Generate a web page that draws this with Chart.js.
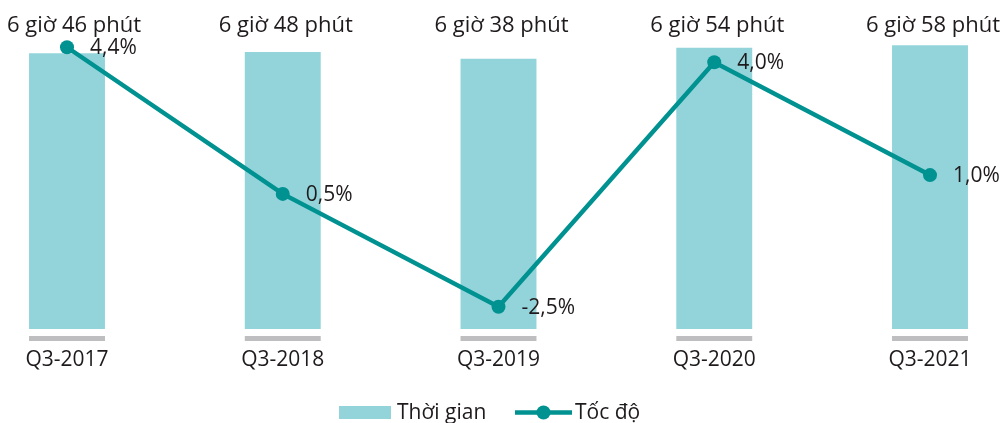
<!DOCTYPE html>
<html><head><meta charset="utf-8">
<script src="https://cdn.jsdelivr.net/npm/chart.js@4/dist/chart.umd.min.js"></script>
<style>html,body{margin:0;padding:0;background:#fff;}#wrap{width:1004px;height:423px;position:relative;}</style>
</head><body>
<div id="wrap"><canvas id="c" width="1004" height="423"></canvas></div>
<script>
const categories = ['Q3-2017', 'Q3-2018', 'Q3-2019', 'Q3-2020', 'Q3-2021'];
const durationMinutes = [406, 408, 398, 414, 418];
const durationLabels = ['6 giờ 46 phút', '6 giờ 48 phút', '6 giờ 38 phút', '6 giờ 54 phút', '6 giờ 58 phút'];
const growthPct = [4.4, 0.5, -2.5, 4.0, 1.0];
const growthLabels = ['4,4%', '0,5%', '-2,5%', '4,0%', '1,0%'];
const seriesNames = ['Thời gian', 'Tốc độ'];

const FONT = '"Open Sans", "Noto Sans", sans-serif';
const TEXT = '#1F1B1C';
const BAR = '#93D4DB';
const LINE = '#009191';
const BASEGRAY = '#BEBEC0';

const extras = {
  id: 'extras',
  beforeDatasetsDraw(chart) {
    const ctx = chart.ctx;
    const meta = chart.getDatasetMeta(0);
    ctx.save();
    ctx.fillStyle = BASEGRAY;
    meta.data.forEach(b => {
      ctx.fillRect(b.x - b.width / 2, b.base + 7, b.width, 5);
    });
    ctx.restore();
  },
  afterDatasetsDraw(chart) {
    const ctx = chart.ctx;
    ctx.save();
    ctx.font = '22px ' + FONT;
    ctx.fillStyle = TEXT;
    const bm = chart.getDatasetMeta(0);
    ctx.textAlign = 'center';
    ctx.textBaseline = 'alphabetic';
    bm.data.forEach((b, i) => {
      const w = ctx.measureText(durationLabels[i]).width;
      let cx = b.x + 3;
      if (cx - w / 2 < 7) cx = 7 + w / 2;
      if (cx + w / 2 > 1001) cx = 1001 - w / 2;
      ctx.fillText(durationLabels[i], cx, 32);
    });
    ctx.font = '21px ' + FONT;
    const lm = chart.getDatasetMeta(1);
    ctx.textAlign = 'left';
    ctx.textBaseline = 'middle';
    lm.data.forEach((p, i) => {
      ctx.fillText(growthLabels[i], p.x + 23, p.y + 1);
    });
    // legend
    const ly = 412.5;
    ctx.fillStyle = BAR;
    ctx.fillRect(339, 406, 52, 13);
    ctx.fillStyle = TEXT;
    ctx.textBaseline = 'alphabetic';
    ctx.fillText(seriesNames[0], 397, 419);
    ctx.strokeStyle = LINE;
    ctx.lineWidth = 4.5;
    ctx.beginPath(); ctx.moveTo(515, ly); ctx.lineTo(572, ly); ctx.stroke();
    ctx.fillStyle = LINE;
    ctx.beginPath(); ctx.arc(543.5, ly, 7, 0, Math.PI * 2); ctx.fill();
    ctx.fillStyle = TEXT;
    ctx.fillText(seriesNames[1], 575, 419);
    ctx.restore();
  }
};

new Chart(document.getElementById('c'), {
  type: 'bar',
  data: {
    labels: categories,
    datasets: [
      {
        label: seriesNames[0],
        data: durationMinutes,
        backgroundColor: BAR,
        barPercentage: 1,
        categoryPercentage: 0.352,
        yAxisID: 'y',
        clip: false,
        order: 2
      },
      {
        type: 'line',
        label: seriesNames[1],
        data: growthPct,
        borderColor: LINE,
        backgroundColor: LINE,
        borderWidth: 4.5,
        pointRadius: 7,
        pointBackgroundColor: LINE,
        pointBorderWidth: 0,
        tension: 0,
        yAxisID: 'y1',
        clip: false,
        order: 1
      }
    ]
  },
  options: {
    responsive: false,
    animation: false,
    layout: { padding: { left: 67, right: 74, top: 30, bottom: 0 } },
    plugins: { legend: { display: false }, tooltip: { enabled: false } },
    scales: {
      x: {
        offset: false,
        grid: { display: false, drawTicks: false },
        border: { display: false },
        ticks: { color: TEXT, font: { family: FONT, size: 21 }, padding: 18, maxRotation: 0, autoSkip: false },
        afterFit: s => { s.height = 94; }
      },
      y: { display: false, min: 0, max: 440.3 },
      y1: { display: false, position: 'right', min: -3.093, max: 4.859 }
    }
  },
  plugins: [extras]
});
</script>
</body></html>
